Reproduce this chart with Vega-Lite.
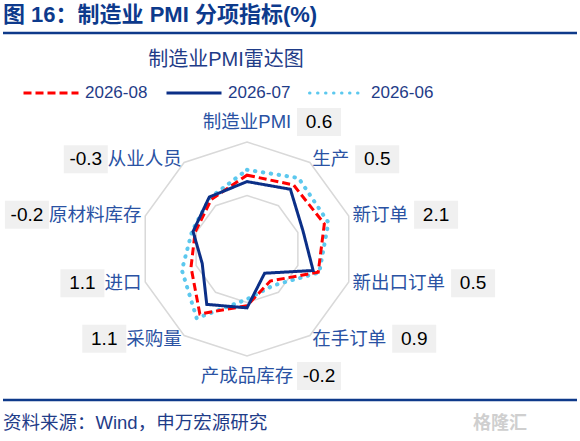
{
  "$schema": "https://vega.github.io/schema/vega-lite/v6.json",
  "width": 580,
  "height": 441,
  "autosize": "none",
  "padding": 0,
  "background": "white",
  "title": {
    "text": "图 16：制造业 PMI 分项指标(%)",
    "anchor": "start",
    "frame": "group",
    "offset": -27,
    "dx": 3,
    "fontSize": 22,
    "fontWeight": "bold",
    "color": "#0d3a8c",
    "font": "Liberation Sans, Noto Sans CJK SC"
  },
  "datasets": {
    "cats": [
      {"name": "制造业PMI", "k": 0, "diff": 0.6},
      {"name": "生产", "k": 1, "diff": 0.5},
      {"name": "新订单", "k": 2, "diff": 2.1},
      {"name": "新出口订单", "k": 3, "diff": 0.5},
      {"name": "在手订单", "k": 4, "diff": 0.9},
      {"name": "产成品库存", "k": 5, "diff": -0.2},
      {"name": "采购量", "k": 6, "diff": 1.1},
      {"name": "进口", "k": 7, "diff": 1.1},
      {"name": "原材料库存", "k": 8, "diff": -0.2},
      {"name": "从业人员", "k": 9, "diff": -0.3}
    ],
    "pmi": [
      {"month": "2026-08", "name": "制造业PMI", "value": 49.9},
      {"month": "2026-08", "name": "生产", "value": 50.4},
      {"month": "2026-08", "name": "新订单", "value": 50.6},
      {"month": "2026-08", "name": "新出口订单", "value": 50.0},
      {"month": "2026-08", "name": "在手订单", "value": 46.7},
      {"month": "2026-08", "name": "产成品库存", "value": 48.3},
      {"month": "2026-08", "name": "采购量", "value": 50.5},
      {"month": "2026-08", "name": "进口", "value": 48.5},
      {"month": "2026-08", "name": "原材料库存", "value": 48.1},
      {"month": "2026-08", "name": "从业人员", "value": 48.7},
      {"month": "2026-07", "name": "制造业PMI", "value": 49.3},
      {"month": "2026-07", "name": "生产", "value": 49.9},
      {"month": "2026-07", "name": "新订单", "value": 48.5},
      {"month": "2026-07", "name": "新出口订单", "value": 49.5},
      {"month": "2026-07", "name": "在手订单", "value": 45.8},
      {"month": "2026-07", "name": "产成品库存", "value": 48.5},
      {"month": "2026-07", "name": "采购量", "value": 49.4},
      {"month": "2026-07", "name": "进口", "value": 47.4},
      {"month": "2026-07", "name": "原材料库存", "value": 48.3},
      {"month": "2026-07", "name": "从业人员", "value": 49.0},
      {"month": "2026-06", "name": "制造业PMI", "value": 50.4},
      {"month": "2026-06", "name": "生产", "value": 51.2},
      {"month": "2026-06", "name": "新订单", "value": 51.0},
      {"month": "2026-06", "name": "新出口订单", "value": 50.1},
      {"month": "2026-06", "name": "在手订单", "value": 47.2},
      {"month": "2026-06", "name": "产成品库存", "value": 47.7},
      {"month": "2026-06", "name": "采购量", "value": 51.0},
      {"month": "2026-06", "name": "进口", "value": 49.4},
      {"month": "2026-06", "name": "原材料库存", "value": 48.4},
      {"month": "2026-06", "name": "从业人员", "value": 48.9}
    ]
  },
  "layer": [
    {
      "data": {"name": "cats"},
      "transform": [
        {"calculate": "datum.k * PI / 5", "as": "theta"},
        {"calculate": "53.5 * sin(datum.theta)", "as": "x"},
        {"calculate": "53.5 * cos(datum.theta)", "as": "y"}
      ],
      "mark": {"type": "line", "interpolate": "linear-closed", "color": "#d9d9d9", "strokeWidth": 1.5},
      "encoding": {
        "x": {"field": "x", "type": "quantitative", "scale": {"domain": [-247, 333], "nice": false, "zero": false}, "axis": null},
        "y": {"field": "y", "type": "quantitative", "scale": {"domain": [-192, 249], "nice": false, "zero": false}, "axis": null},
        "order": {"field": "k"}
      }
    },
    {
      "data": {"name": "cats"},
      "transform": [
        {"calculate": "datum.k * PI / 5", "as": "theta"},
        {"calculate": "107 * sin(datum.theta)", "as": "x"},
        {"calculate": "107 * cos(datum.theta)", "as": "y"}
      ],
      "mark": {"type": "line", "interpolate": "linear-closed", "color": "#d9d9d9", "strokeWidth": 1.5},
      "encoding": {
        "x": {"field": "x", "type": "quantitative", "scale": {"domain": [-247, 333], "nice": false, "zero": false}, "axis": null},
        "y": {"field": "y", "type": "quantitative", "scale": {"domain": [-192, 249], "nice": false, "zero": false}, "axis": null},
        "order": {"field": "k"}
      }
    },
    {
      "data": {"name": "pmi"},
      "transform": [
        {"filter": "datum.month === '2026-06'"},
        {"lookup": "name", "from": {"data": {"name": "cats"}, "key": "name", "fields": ["k"]}},
        {"calculate": "datum.k * PI / 5", "as": "theta"},
        {"calculate": "(datum.value - 43) * 10.7", "as": "r"},
        {"calculate": "datum.r * sin(datum.theta)", "as": "x"},
        {"calculate": "datum.r * cos(datum.theta)", "as": "y"}
      ],
      "mark": {"type": "line", "interpolate": "linear-closed", "strokeWidth": 4, "strokeCap": "round"},
      "encoding": {
        "x": {"field": "x", "type": "quantitative", "scale": {"domain": [-247, 333], "nice": false, "zero": false}, "axis": null},
        "y": {"field": "y", "type": "quantitative", "scale": {"domain": [-192, 249], "nice": false, "zero": false}, "axis": null},
        "order": {"field": "k"},
        "color": {"field": "month", "type": "nominal", "scale": {"domain": ["2026-08", "2026-07", "2026-06"], "range": ["#ff0000", "#0b2f87", "#5cc8ee"]},
          "legend": {"encode": {"symbols": {"update": {"strokeCap": {"signal": "datum.value === '2026-06' ? 'round' : 'butt'"}}}}}},
        "strokeDash": {"field": "month", "type": "nominal", "scale": {"domain": ["2026-08", "2026-07", "2026-06"], "range": [[8, 4], [1, 0], [0.5, 7.5]]}}
      }
    },
    {
      "data": {"name": "pmi"},
      "transform": [
        {"filter": "datum.month === '2026-08'"},
        {"lookup": "name", "from": {"data": {"name": "cats"}, "key": "name", "fields": ["k"]}},
        {"calculate": "datum.k * PI / 5", "as": "theta"},
        {"calculate": "(datum.value - 43) * 10.7", "as": "r"},
        {"calculate": "datum.r * sin(datum.theta)", "as": "x"},
        {"calculate": "datum.r * cos(datum.theta)", "as": "y"}
      ],
      "mark": {"type": "line", "interpolate": "linear-closed", "strokeWidth": 3},
      "encoding": {
        "x": {"field": "x", "type": "quantitative", "scale": {"domain": [-247, 333], "nice": false, "zero": false}, "axis": null},
        "y": {"field": "y", "type": "quantitative", "scale": {"domain": [-192, 249], "nice": false, "zero": false}, "axis": null},
        "order": {"field": "k"},
        "color": {"field": "month", "type": "nominal", "scale": {"domain": ["2026-08", "2026-07", "2026-06"], "range": ["#ff0000", "#0b2f87", "#5cc8ee"]},
          "legend": {"encode": {"symbols": {"update": {"strokeCap": {"signal": "datum.value === '2026-06' ? 'round' : 'butt'"}}}}}},
        "strokeDash": {"field": "month", "type": "nominal", "scale": {"domain": ["2026-08", "2026-07", "2026-06"], "range": [[8, 4], [1, 0], [0.5, 7.5]]}}
      }
    },
    {
      "data": {"name": "pmi"},
      "transform": [
        {"filter": "datum.month === '2026-07'"},
        {"lookup": "name", "from": {"data": {"name": "cats"}, "key": "name", "fields": ["k"]}},
        {"calculate": "datum.k * PI / 5", "as": "theta"},
        {"calculate": "(datum.value - 43) * 10.7", "as": "r"},
        {"calculate": "datum.r * sin(datum.theta)", "as": "x"},
        {"calculate": "datum.r * cos(datum.theta)", "as": "y"}
      ],
      "mark": {"type": "line", "interpolate": "linear-closed", "strokeWidth": 3},
      "encoding": {
        "x": {"field": "x", "type": "quantitative", "scale": {"domain": [-247, 333], "nice": false, "zero": false}, "axis": null},
        "y": {"field": "y", "type": "quantitative", "scale": {"domain": [-192, 249], "nice": false, "zero": false}, "axis": null},
        "order": {"field": "k"},
        "color": {"field": "month", "type": "nominal", "scale": {"domain": ["2026-08", "2026-07", "2026-06"], "range": ["#ff0000", "#0b2f87", "#5cc8ee"]},
          "legend": {"encode": {"symbols": {"update": {"strokeCap": {"signal": "datum.value === '2026-06' ? 'round' : 'butt'"}}}}}},
        "strokeDash": {"field": "month", "type": "nominal", "scale": {"domain": ["2026-08", "2026-07", "2026-06"], "range": [[8, 4], [1, 0], [0.5, 7.5]]}}
      }
    },
    {
      "data": {"name": "cats"},
      "transform": [
        {"calculate": "datum.k * PI / 5", "as": "theta"},
        {"calculate": "sin(datum.theta)", "as": "s"},
        {"calculate": "abs(datum.s) < 0.1 ? 127 : 111", "as": "R"},
        {"calculate": "datum.R * datum.s", "as": "lx"},
        {"calculate": "datum.R * cos(datum.theta)", "as": "ly"},
        {"calculate": "18.5 * length(datum.name)", "as": "w"},
        {"calculate": "datum.s > 0.1 ? datum.lx + datum.w + 28 : (datum.s < -0.1 ? datum.lx - datum.w - 22 : datum.lx + 72)", "as": "bx"},
        {"calculate": "datum.bx - 22", "as": "bx1"},
        {"calculate": "datum.bx + 22", "as": "bx2"},
        {"calculate": "datum.ly - 14", "as": "by1"},
        {"calculate": "datum.ly + 14", "as": "by2"}
      ],
      "layer": [
        {
          "mark": {"type": "rect", "color": "#f0f0f0"},
          "encoding": {
            "x": {"field": "bx1", "type": "quantitative", "scale": {"domain": [-247, 333], "nice": false, "zero": false}, "axis": null},
            "x2": {"field": "bx2"},
            "y": {"field": "by1", "type": "quantitative", "scale": {"domain": [-192, 249], "nice": false, "zero": false}, "axis": null},
            "y2": {"field": "by2"}
          }
        },
        {
          "mark": {"type": "text", "align": "center", "baseline": "middle", "fontSize": 19, "font": "Liberation Sans", "color": "#000000"},
          "encoding": {
            "x": {"field": "bx", "type": "quantitative", "scale": {"domain": [-247, 333], "nice": false, "zero": false}, "axis": null},
            "y": {"field": "ly", "type": "quantitative", "scale": {"domain": [-192, 249], "nice": false, "zero": false}, "axis": null},
            "text": {"field": "diff", "type": "nominal"}
          }
        },
        {
          "transform": [{"filter": "datum.s > 0.1"}],
          "mark": {"type": "text", "align": "left", "baseline": "middle", "fontSize": 18.5, "font": "Liberation Sans, Noto Sans CJK SC", "color": "#2a52a3"},
          "encoding": {
            "x": {"field": "lx", "type": "quantitative", "scale": {"domain": [-247, 333], "nice": false, "zero": false}, "axis": null},
            "y": {"field": "ly", "type": "quantitative", "scale": {"domain": [-192, 249], "nice": false, "zero": false}, "axis": null},
            "text": {"field": "name", "type": "nominal"}
          }
        },
        {
          "transform": [{"filter": "datum.s < -0.1"}],
          "mark": {"type": "text", "align": "right", "baseline": "middle", "fontSize": 18.5, "font": "Liberation Sans, Noto Sans CJK SC", "color": "#2a52a3"},
          "encoding": {
            "x": {"field": "lx", "type": "quantitative", "scale": {"domain": [-247, 333], "nice": false, "zero": false}, "axis": null},
            "y": {"field": "ly", "type": "quantitative", "scale": {"domain": [-192, 249], "nice": false, "zero": false}, "axis": null},
            "text": {"field": "name", "type": "nominal"}
          }
        },
        {
          "transform": [{"filter": "abs(datum.s) <= 0.1"}],
          "mark": {"type": "text", "align": "center", "baseline": "middle", "fontSize": 18.5, "font": "Liberation Sans, Noto Sans CJK SC", "color": "#2a52a3"},
          "encoding": {
            "x": {"field": "lx", "type": "quantitative", "scale": {"domain": [-247, 333], "nice": false, "zero": false}, "axis": null},
            "y": {"field": "ly", "type": "quantitative", "scale": {"domain": [-192, 249], "nice": false, "zero": false}, "axis": null},
            "text": {"field": "name", "type": "nominal"}
          }
        }
      ]
    },
    {
      "data": {"values": [{"y": 216}, {"y": -151}]},
      "mark": {"type": "rule", "color": "#0e3a8a", "strokeWidth": 2.5},
      "encoding": {
        "x": {"datum": -244, "type": "quantitative", "scale": {"domain": [-247, 333], "nice": false, "zero": false}, "axis": null},
        "x2": {"datum": 330},
        "y": {"field": "y", "type": "quantitative", "scale": {"domain": [-192, 249], "nice": false, "zero": false}, "axis": null}
      }
    },
    {
      "data": {"values": [{}]},
      "mark": {"type": "text", "align": "center", "baseline": "middle", "fontSize": 20, "font": "Liberation Sans, Noto Sans CJK SC", "color": "#1f3c88", "text": "制造业PMI雷达图"},
      "encoding": {
        "x": {"datum": -21, "type": "quantitative", "scale": {"domain": [-247, 333], "nice": false, "zero": false}, "axis": null},
        "y": {"datum": 189, "type": "quantitative", "scale": {"domain": [-192, 249], "nice": false, "zero": false}, "axis": null}
      }
    },
    {
      "data": {"values": [{}]},
      "mark": {"type": "text", "align": "left", "baseline": "middle", "fontSize": 18.5, "font": "Liberation Sans, Noto Sans CJK SC", "color": "#1f3c88", "text": "资料来源：Wind，申万宏源研究"},
      "encoding": {
        "x": {"datum": -244, "type": "quantitative", "scale": {"domain": [-247, 333], "nice": false, "zero": false}, "axis": null},
        "y": {"datum": -174, "type": "quantitative", "scale": {"domain": [-192, 249], "nice": false, "zero": false}, "axis": null}
      }
    },
    {
      "data": {"values": [{}]},
      "mark": {"type": "text", "align": "center", "baseline": "middle", "fontSize": 18, "fontWeight": "bold", "font": "Noto Sans CJK SC", "color": "#cfcfcf", "text": "格隆汇"},
      "encoding": {
        "x": {"datum": 253, "type": "quantitative", "scale": {"domain": [-247, 333], "nice": false, "zero": false}, "axis": null},
        "y": {"datum": -175, "type": "quantitative", "scale": {"domain": [-192, 249], "nice": false, "zero": false}, "axis": null}
      }
    }
  ],
  "config": {
    "view": {"stroke": null},
    "legend": {
      "orient": "none",
      "legendX": 22,
      "legendY": 64,
      "direction": "horizontal",
      "title": null,
      "symbolType": "stroke",
      "symbolSize": 3025,
      "symbolStrokeWidth": 3,
      "labelFontSize": 17,
      "labelFont": "Liberation Sans",
      "labelColor": "#1f3c88",
      "labelOffset": 5,
      "columnPadding": 12
    }
  }
}
